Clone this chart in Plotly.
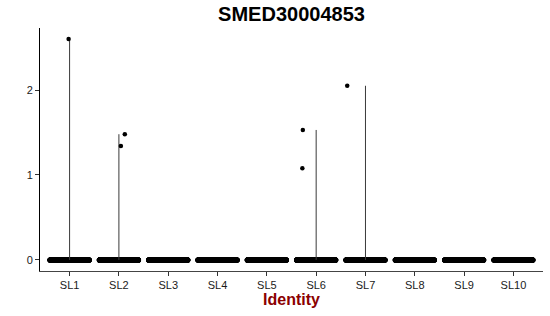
import plotly.graph_objects as go

# Data
groups = ["SL1", "SL2", "SL3", "SL4", "SL5", "SL6", "SL7", "SL8", "SL9", "SL10"]
zero_counts = [900, 850, 800, 780, 760, 740, 700, 650, 600, 500]
# non-zero expression values per group and their horizontal jitter
nz_group = [0, 1, 1, 5, 5, 6]
nz_values = [2.60, 1.34, 1.48, 1.08, 1.53, 2.05]
nz_jitter = [-0.02, 0.04, 0.12, -0.28, -0.27, -0.37]

fig = go.Figure()

# violin outlines (collapsed to vertical lines since most cells are 0)
for gi in range(len(groups)):
    vals = [v for g, v in zip(nz_group, nz_values) if g == gi]
    if vals:
        fig.add_trace(go.Scatter(x=[gi, gi], y=[0, max(vals)], mode="lines",
                                 line=dict(color="#3a3a3a", width=1),
                                 showlegend=False, hoverinfo="skip"))

# zero-valued cells with jitter
for gi, n in enumerate(zero_counts):
    fig.add_trace(go.Box(x0=gi, y=[0.0] * n, boxpoints="all", jitter=1, pointpos=0, width=0.8,
                         line=dict(color="rgba(0,0,0,0)", width=0),
                         fillcolor="rgba(0,0,0,0)",
                         marker=dict(color="black", size=5),
                         showlegend=False, hoverinfo="skip"))

# non-zero cells
fig.add_trace(go.Scatter(x=[g + j for g, j in zip(nz_group, nz_jitter)], y=nz_values,
                         mode="markers", marker=dict(color="black", size=4.5),
                         showlegend=False, hoverinfo="skip"))

fig.update_layout(
    width=550, height=316,
    margin=dict(l=40, r=7, t=28, b=45),
    paper_bgcolor="white", plot_bgcolor="white",
    boxmode="overlay",
    font=dict(family="Liberation Sans, Arial, sans-serif", color="black", size=11),
    title=dict(text="<b>SMED30004853</b>", x=(40 + 543) / 2 / 550, xanchor="center",
               y=1 - 14 / 316, yanchor="middle",
               font=dict(size=20, color="black")),
    xaxis=dict(range=[-0.6, 9.6], tickmode="array", tickvals=list(range(len(groups))),
               ticktext=groups, showgrid=False, zeroline=False,
               showline=True, linecolor="#444444", linewidth=1,
               ticks="outside", ticklen=4, tickcolor="#333333",
               tickfont=dict(size=11, color="#1a1a1a"),
               title=dict(text="<b>Identity</b>", font=dict(size=16, color="#8B0000"), standoff=2)),
    yaxis=dict(range=[-0.13, 2.73], tickvals=[0, 1, 2], showgrid=False, zeroline=False,
               showline=True, linecolor="black", linewidth=1,
               ticks="outside", ticklen=4, tickcolor="#333333",
               tickfont=dict(size=11, color="#1a1a1a")),
)

fig.write_html("out.html")
